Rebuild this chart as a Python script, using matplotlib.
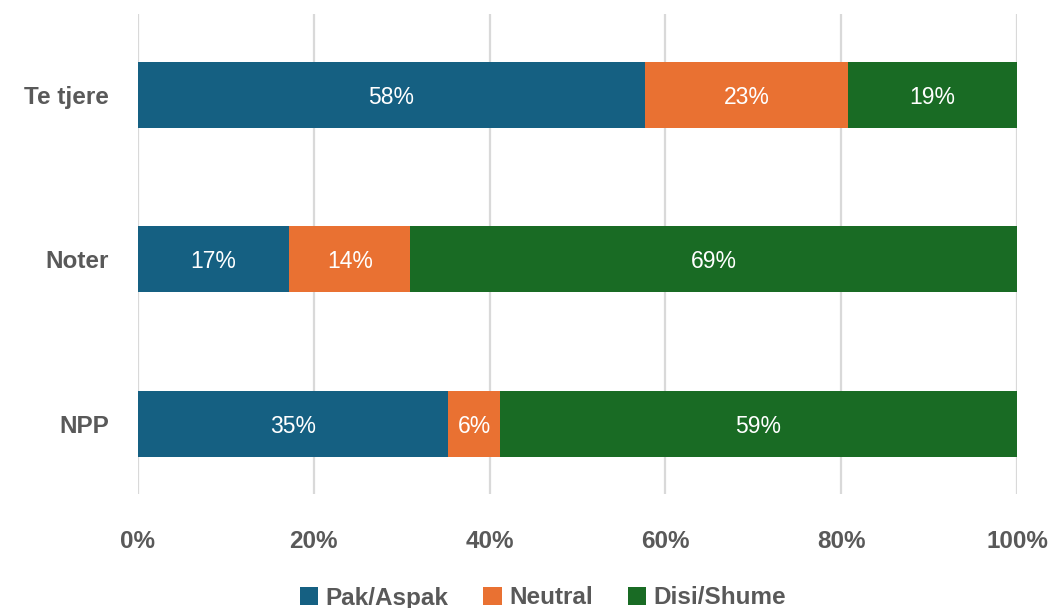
import matplotlib.pyplot as plt
from matplotlib.ticker import PercentFormatter

plt.rcParams['font.family'] = ['Liberation Sans', 'DejaVu Sans']

# categories from bottom to top
categories = ["NPP", "Noter", "Te tjere"]
series_names = ["Pak/Aspak", "Neutral", "Disi/Shume"]
pak_aspak = [35.3, 17.2, 57.7]
neutral = [5.9, 13.8, 23.1]
disi_shume = [58.8, 69.0, 19.2]
colors = ["#156082", "#E97132", "#196B24"]
x_ticks = [0, 20, 40, 60, 80, 100]

fig = plt.figure(figsize=(10.5, 6.08), dpi=100)
ax = fig.add_axes([0.1314, 0.1875, 0.8372, 0.7895])

gray = "#595959"
ypos = list(range(len(categories)))
left = [0.0] * len(categories)
handles = []
for name, vals, c in zip(series_names, [pak_aspak, neutral, disi_shume], colors):
    bars = ax.barh(ypos, vals, left=left, height=0.40, color=c, label=name, zorder=3)
    handles.append(bars)
    for y, l, v in zip(ypos, left, vals):
        ax.text(l + v / 2, y - 0.015, f"{v:.0f}%", ha="center", va="center",
                color="white", fontsize=16.5, zorder=4)
    left = [a + b for a, b in zip(left, vals)]

ax.set_xlim(0, 100)
ax.set_ylim(-0.425, 2.49)
ax.set_xticks(x_ticks)
ax.xaxis.set_major_formatter(PercentFormatter(decimals=0))
ax.set_yticks(ypos)
ax.set_yticklabels(categories)
ax.grid(axis="x", color="#D9D9D9", linewidth=1.6, zorder=0)
for s in ax.spines.values():
    s.set_visible(False)
ax.tick_params(axis="both", length=0, labelsize=17.5, labelcolor=gray)
ax.tick_params(axis="x", pad=26)
ax.tick_params(axis="y", pad=21)
for lbl in ax.get_xticklabels() + ax.get_yticklabels():
    lbl.set_fontweight("bold")

fig.legend(handles=handles, loc="center", bbox_to_anchor=(0.517, 1 - 598 / 608),
           ncol=3, frameon=False, handlelength=0.75, handleheight=0.75,
           handletextpad=0.3, columnspacing=1.45,
           prop={"size": 17.5, "weight": "bold"}, labelcolor=gray)

fig.savefig("out.png", dpi=100)
